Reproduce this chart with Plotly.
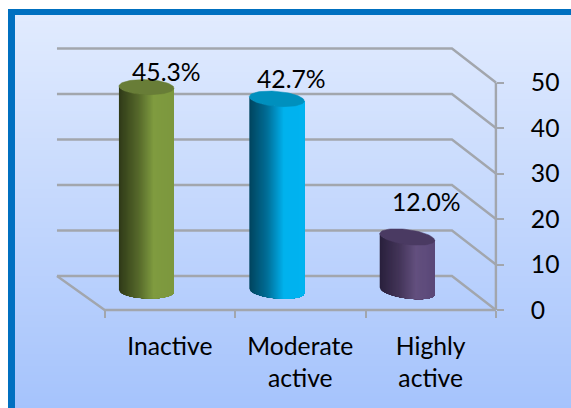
import numpy as np
import plotly.graph_objects as go

# Chart data
categories = ["Inactive", "Moderate<br>active", "Highly<br>active"]
percentages = [45.3, 42.7, 12.0]
axis_ticks = [0, 10, 20, 30, 40, 50]

# Horizontal gradient stops for each cylinder: dark left edge to lit right side
BODY_STOPS = [
    [(0.0, "#303B18"), (0.35, "#56692B"), (0.62, "#7F9B40"), (1.0, "#7C973E")],
    [(0.0, "#004560"), (0.32, "#006F98"), (0.62, "#00B2EE"), (1.0, "#00B4F0")],
    [(0.0, "#2A213D"), (0.35, "#443559"), (0.65, "#63507F"), (1.0, "#5A4878")],
]
CAP_COLORS = ["#687D37", "#0090BE", "#4A3A62"]
LABEL_NUDGE = [(20, -16), (15, -20), (19, -36)]

W, H = 571, 408
FONT = "Lato"
TEXT_SIZE = 24.7
GRID = "#A2A6AD"

# Pixel geometry of the chart box
X_ORIGIN, X_STEP = 104.7, 130.4   # left floor corner, width of one category
Y_ZERO, Y_SCALE = 310.0, 4.55     # front axis baseline, pixels per unit
BAR_ZERO, BAR_SCALE = 291.0, 4.5  # cylinder plane sits part way into the box
WALL_LEFT, WALL_RIGHT = 0.366, 0.337  # back wall offset, category units
WALL_RISE = 34 / Y_SCALE              # back wall offset, axis units
BAR_SHIFT = 0.18
BAR_RX = 27.5 / X_STEP
BAR_RY = 7.5 / BAR_SCALE


def lerp_color(stops, t):
    for (a, ca), (b, cb) in zip(stops, stops[1:]):
        if t <= b:
            f = (t - a) / (b - a)
            rgb = [
                round(int(ca[i:i + 2], 16) * (1 - f) + int(cb[i:i + 2], 16) * f)
                for i in (1, 3, 5)
            ]
            return f"rgb({rgb[0]},{rgb[1]},{rgb[2]})"
    return stops[-1][1]


fig = go.Figure()

# Wall gridlines, running back across the wall and forward to the value axis
for v in axis_ticks:
    fig.add_trace(go.Scatter(
        x=[-0.5 - WALL_LEFT, 2.5 - WALL_RIGHT, 2.5],
        y=[v + WALL_RISE, v + WALL_RISE, v],
        mode="lines", line=dict(color=GRID, width=2.4), hoverinfo="skip",
    ))

# Floor edges and the value axis line
fig.add_trace(go.Scatter(
    x=[-0.5 - WALL_LEFT, -0.5, 2.5], y=[WALL_RISE, 0, 0],
    mode="lines", line=dict(color=GRID, width=2.4), hoverinfo="skip",
))
fig.add_trace(go.Scatter(
    x=[2.5, 2.5], y=[axis_ticks[0], axis_ticks[-1]],
    mode="lines", line=dict(color=GRID, width=2.4), hoverinfo="skip",
))

# Cylinders: layered bands that each run to the right edge, so the shading has
# no seams, then an ellipse cap on top
for i, value in enumerate(percentages):
    cx = i - BAR_SHIFT
    tilt = (1.0 + 1.2 * i) / BAR_SCALE
    for a in np.linspace(-1, 1, 56)[:-1]:
        ts = np.linspace(a, 1, 40)
        front = -BAR_RY * np.sqrt(np.clip(1 - ts ** 2, 0, 1)) - tilt * ts
        xs = cx + BAR_RX * ts
        shade = lerp_color(BODY_STOPS[i], (a + 1) / 2)
        fig.add_trace(go.Scatter(
            x=np.concatenate([xs, xs[::-1]]),
            y=np.concatenate([value + front, front[::-1]]),
            mode="lines", fill="toself", yaxis="y2",
            fillcolor=shade, line=dict(width=0), hoverinfo="skip",
        ))
    theta = np.linspace(0, 2 * np.pi, 80)
    fig.add_trace(go.Scatter(
        x=cx + BAR_RX * np.cos(theta),
        y=value + BAR_RY * np.sin(theta) - tilt * np.cos(theta),
        mode="lines", fill="toself", yaxis="y2",
        fillcolor=CAP_COLORS[i], line=dict(color=CAP_COLORS[i], width=0.5),
        hoverinfo="skip",
    ))
    dx, dy = LABEL_NUDGE[i]
    fig.add_annotation(
        x=cx, y=value, xref="x", yref="y2", text=f"{value:.1f}%", showarrow=False,
        xshift=dx, yshift=-dy, font=dict(family=FONT, size=TEXT_SIZE, color="#000000"),
    )

# Panel frame with a vertical fill from pale to mid blue
shapes = [dict(
    type="rect", xref="paper", yref="paper", layer="below",
    x0=8 / W, x1=1.02, y0=-0.02, y1=1 - 9 / H,
    fillcolor="#0070C0", line=dict(width=0),
)]
top_rgb, bottom_rgb = np.array([225, 235, 254]), np.array([165, 195, 252])
band = 3
for y in range(15, H, band):
    c = top_rgb + (bottom_rgb - top_rgb) * (y - 15) / (H - 15)
    shapes.append(dict(
        type="rect", xref="paper", yref="paper", layer="below",
        x0=15 / W, x1=1.02, y0=1 - min(y + band, H) / H, y1=1 - y / H,
        fillcolor=f"rgb({c[0]:.0f},{c[1]:.0f},{c[2]:.0f})", line=dict(width=0),
    ))

fig.update_layout(
    width=W, height=H, margin=dict(l=0, r=0, t=0, b=0), showlegend=False,
    paper_bgcolor="#FFFFFF", plot_bgcolor="rgba(0,0,0,0)", shapes=shapes,
    font=dict(family=FONT, size=TEXT_SIZE, color="#000000"),
    xaxis=dict(
        range=[-0.5 - X_ORIGIN / X_STEP, -0.5 + (W - X_ORIGIN) / X_STEP],
        domain=[0, 1], anchor="free", position=(H - Y_ZERO) / H,
        tickmode="array", tickvals=[0, 1, 2], ticktext=categories, ticks="",
        ticklabelstandoff=19, showgrid=False, zeroline=False, showline=False,
        minor=dict(tickmode="array", tickvals=[-0.5, 0.5, 1.5, 2.5], ticks="outside",
                   ticklen=7, tickwidth=2, tickcolor=GRID, showgrid=False),
        fixedrange=True,
    ),
    yaxis=dict(
        range=[-(H - Y_ZERO) / Y_SCALE, Y_ZERO / Y_SCALE],
        domain=[0, 1], anchor="free", position=(X_ORIGIN + 3 * X_STEP) / W, side="right",
        tickmode="array", tickvals=axis_ticks, ticks="outside", ticklen=7, tickwidth=2,
        tickcolor=GRID, ticklabelstandoff=22, showgrid=False, zeroline=False,
        showline=False, fixedrange=True,
    ),
    yaxis2=dict(
        range=[-(H - BAR_ZERO) / BAR_SCALE, BAR_ZERO / BAR_SCALE],
        domain=[0, 1], overlaying="y", visible=False, fixedrange=True,
    ),
)

fig.write_html("out.html", config=dict(displayModeBar=False))
